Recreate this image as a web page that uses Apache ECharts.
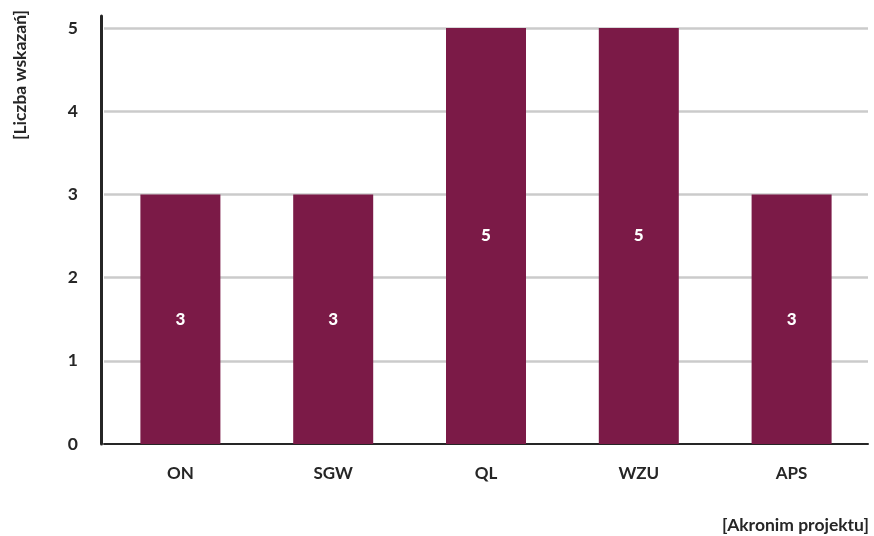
<!DOCTYPE html>
<html>
<head>
<meta charset="utf-8">
<script src="https://cdn.jsdelivr.net/npm/echarts@6/dist/echarts.min.js"></script>
<style>
  html, body { margin: 0; padding: 0; background: #ffffff; }
  #chart { width: 874px; height: 536px; }
</style>
</head>
<body>
<div id="chart"></div>
<script>
// Project acronyms and number of indicators per project
const categories = ['ON', 'SGW', 'QL', 'WZU', 'APS'];
const indicatorCounts = [3, 3, 5, 5, 3];
const yTicks = [0, 1, 2, 3, 4, 5];

const yAxisTitle = '[Liczba wskazań]';
const xAxisTitle = '[Akronim projektu]';

const FONT = 'Lato, "Open Sans", sans-serif';
const TEXT = '#262626';
const BAR = '#7B1A47';

const chart = echarts.init(document.getElementById('chart'), null, { renderer: 'canvas' });

chart.setOption({
  animation: false,
  backgroundColor: '#ffffff',
  grid: { left: 104, right: 6, top: 16, bottom: 92, containLabel: false },
  xAxis: {
    type: 'category',
    data: categories,
    axisTick: { show: false },
    axisLine: { lineStyle: { color: TEXT, width: 2 } },
    axisLabel: {
      color: TEXT, fontFamily: FONT, fontWeight: 'bold', fontSize: 17, margin: 21
    },
    splitLine: { show: false }
  },
  yAxis: {
    type: 'value',
    min: 0,
    max: 5.144,
    interval: 1,
    offset: 3,
    axisLine: { show: true, lineStyle: { color: TEXT, width: 3 } },
    axisTick: { show: false },
    axisLabel: {
      color: TEXT, fontFamily: FONT, fontWeight: 'bold', fontSize: 17.5, margin: 23,
      showMaxLabel: false,
      formatter: v => (yTicks.indexOf(v) >= 0 ? String(v) : '')
    },
    splitLine: {
      show: true,
      showMinLine: false,
      showMaxLine: false,
      lineStyle: { color: '#cbcbcb', width: 2.5 }
    }
  },
  series: [{
    type: 'bar',
    data: indicatorCounts,
    barWidth: 80,
    itemStyle: { color: BAR },
    label: {
      show: true,
      position: 'inside',
      color: '#ffffff',
      fontFamily: FONT,
      fontWeight: 900,
      fontSize: 17
    }
  }],
  graphic: [
    {
      type: 'text',
      x: 20, y: 75,
      rotation: Math.PI / 2,
      style: {
        text: yAxisTitle,
        fill: TEXT,
        font: 'bold 17.5px ' + FONT,
        align: 'center',
        verticalAlign: 'middle'
      }
    },
    {
      type: 'text',
      x: 869, y: 525,
      style: {
        text: xAxisTitle,
        fill: TEXT,
        font: 'bold 17.5px ' + FONT,
        align: 'right',
        verticalAlign: 'middle'
      }
    }
  ]
});
</script>
</body>
</html>
